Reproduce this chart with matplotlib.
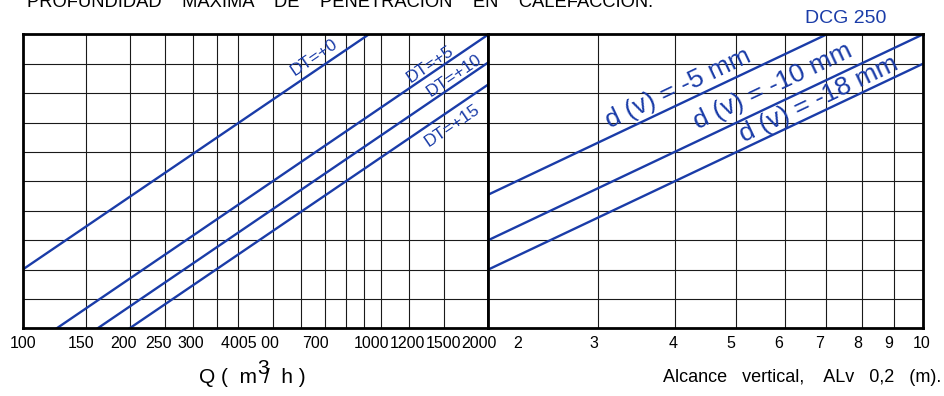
import matplotlib
matplotlib.use("Agg")
import matplotlib.pyplot as plt
import matplotlib.transforms as mtransforms
from matplotlib.ticker import NullLocator
import numpy as np

plt.rcParams['font.family'] = ['Liberation Sans', 'DejaVu Sans']

BLUE = '#1a3ca8'

# left panel: caudal Q (m3/h), one line per DT
dt_labels = ["DT=+0", "DT=+5", "DT=+10", "DT=+15"]
dt_q = [[100, 926], [124.5, 2000], [162, 2000], [199, 2000]]
dt_y = [[2.0, 10], [0, 10], [0, 9.05], [0, 8.3]]
dt_label_q = [652, 1377, 1607, 1585]
dt_label_dy = [14, 10, 10, -17]

# right panel: alcance vertical, one line per d(v)
dv_labels = ["d (v) = -5 mm", "d (v) = -10 mm", "d (v) = -18 mm"]
dv_x = [[2, 7], [2, 10], [2, 10]]
dv_y = [[4.55, 10], [3.0, 10], [2.0, 9.0]]
dv_label_x = [4.04, 5.74, 6.81]
dv_label_dy = [16, 19, 14]

q_grid = [150, 200, 250, 300, 350, 400, 500, 600, 700, 800, 900, 1000, 1200, 1500]
q_ticklabels = ["100", "150", "200", "250", "300", "4005 00", "700",
                "1000", "1200", "1500", "2000"]
q_tickpos = [100, 146, 191, 239, 294, 432, 657, 942, 1188, 1497, 1888]

alv_grid = [3, 4, 5, 6, 7, 8, 9]
alv_ticklabels = ["2", "3", "4", "5", "6", "7", "8", "9", "10"]
alv_tickpos = [2.23, 2.96, 3.96, 4.91, 5.87, 6.83, 7.85, 8.81, 9.95]

y_rows = list(range(1, 10))

W, H = 944, 396
fig = plt.figure(figsize=(W / 100, H / 100), dpi=100)
bottom = 1 - 328.3 / H
height = (328.3 - 34.5) / H
ax_q = fig.add_axes([22.7 / W, bottom, (488.3 - 22.7) / W, height])
ax_v = fig.add_axes([488.3 / W, bottom, (922.7 - 488.3) / W, height])


def setup(ax, lim, grid):
    ax.set_xscale('log')
    ax.set_xlim(*lim)
    ax.set_ylim(0, 10)
    ax.set_xticks(grid)
    ax.xaxis.set_minor_locator(NullLocator())
    ax.set_yticks(y_rows)
    ax.tick_params(length=0, labelbottom=False, labelleft=False)
    ax.grid(True, color='#1a1a1a', lw=0.8)
    ax.set_axisbelow(True)
    for sp in ax.spines.values():
        sp.set_linewidth(2.0)
        sp.set_color('black')


def line_label(ax, text, x, xs, ys, dy, size):
    y = np.interp(np.log10(x), np.log10(xs), ys)
    p0 = ax.transData.transform((xs[0], ys[0]))
    p1 = ax.transData.transform((xs[1], ys[1]))
    ang = np.degrees(np.arctan2(p1[1] - p0[1], p1[0] - p0[0]))
    ax.annotate(text, (x, y), xytext=(0, dy * 0.72), textcoords='offset points',
                rotation=ang, rotation_mode='anchor', ha='center', va='center',
                color=BLUE, fontsize=size)


setup(ax_q, (100, 2000), q_grid)
setup(ax_v, (2, 10), alv_grid)

for lab, xs, ys, lx, dy in zip(dt_labels, dt_q, dt_y, dt_label_q, dt_label_dy):
    ax_q.plot(xs, ys, color=BLUE, lw=1.7)
    line_label(ax_q, lab, lx, xs, ys, dy, 12.5)

for lab, xs, ys, lx, dy in zip(dv_labels, dv_x, dv_y, dv_label_x, dv_label_dy):
    ax_v.plot(xs, ys, color=BLUE, lw=1.7)
    line_label(ax_v, lab, lx, xs, ys, dy, 19)

# tick labels sit under the frame, not always on the grid line
base_y = 1 - 348.3 / H
for ax, labels, pos in [(ax_q, q_ticklabels, q_tickpos), (ax_v, alv_ticklabels, alv_tickpos)]:
    tr = mtransforms.blended_transform_factory(ax.transData, fig.transFigure)
    for lab, x in zip(labels, pos):
        ax.text(x, base_y, lab, transform=tr, ha='center', va='baseline', fontsize=11.5)

# axis titles
fig.text(257 / W, 1 - 383.3 / H, "Q (  m", ha='right', va='baseline', fontsize=15)
fig.text(257 / W, 1 - 373.5 / H, "3", ha='left', va='baseline', fontsize=15)
fig.text(264 / W, 1 - 383.3 / H, "/  h )", ha='left', va='baseline', fontsize=15)
fig.text(941.7 / W, 1 - 381.7 / H, "Alcance   vertical,    ALv   0,2   (m).",
         ha='right', va='baseline', fontsize=13)

fig.text(26.7 / W, 1 - 7.3 / H,
         "PROFUNDIDAD    MAXIMA    DE    PENETRACION    EN    CALEFACCION.",
         ha='left', va='baseline', fontsize=13.2)
fig.text(805 / W, 1 - 23.3 / H, "DCG 250", ha='left', va='baseline',
         fontsize=14, color=BLUE)

fig.savefig('out.png', dpi=100)
